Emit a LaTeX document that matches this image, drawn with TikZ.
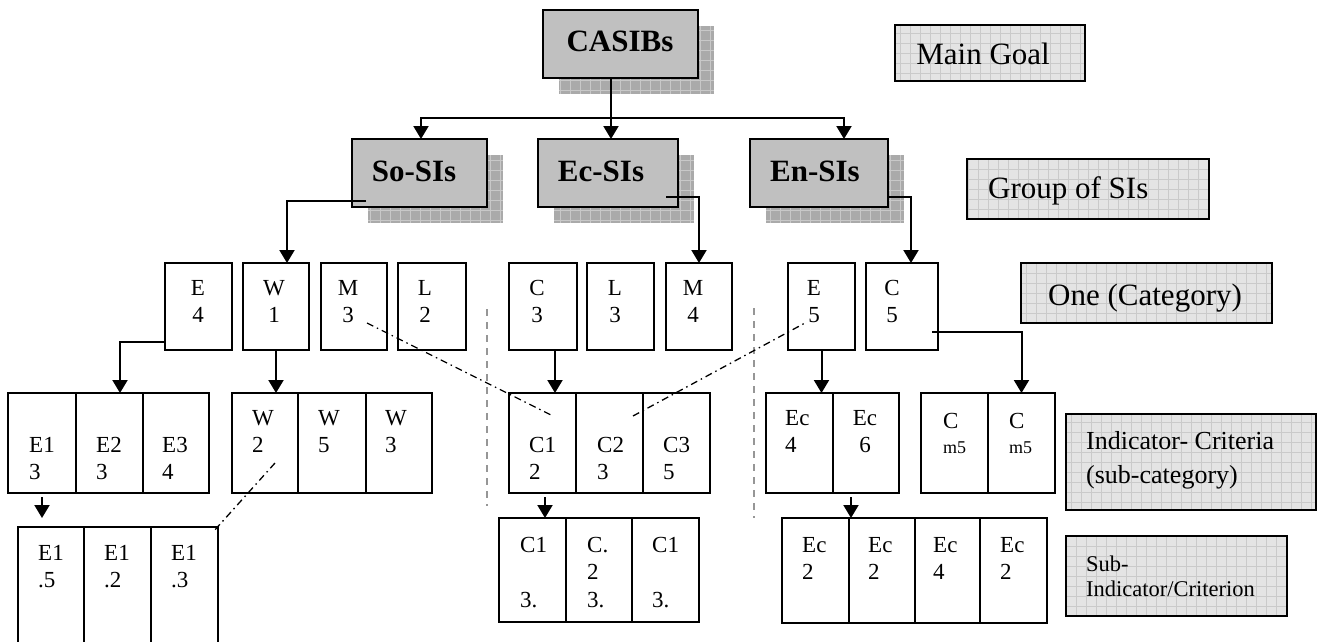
\documentclass[tikz,border=0pt]{standalone}
\usepackage{fontspec}
\setmainfont{Liberation Serif}
\usetikzlibrary{arrows.meta}
\definecolor{boxgray}{RGB}{192,192,192}
\definecolor{shadowgray}{RGB}{170,170,170}
\definecolor{shadowgrid}{RGB}{200,200,200}
\definecolor{leggray}{RGB}{228,228,228}
\definecolor{leggrid}{RGB}{202,202,202}
\definecolor{sepgray}{RGB}{150,150,150}
\begin{document}
\begin{tikzpicture}[x=1pt,y=-1pt,
  bx/.style={draw, line width=2pt, anchor=north west, inner sep=0pt, outer sep=0pt, fill=white},
  grpbox/.style={bx, fill=boxgray, minimum height=68pt},
  catbox/.style={bx, minimum height=87pt},
  indbox/.style={bx, minimum height=100pt},
  subbox/.style={bx, minimum height=104pt},
  legbox/.style={bx, fill=leggray, path picture={\draw[leggrid, line width=0.6pt, x=1pt, y=1pt, step=10] (path picture bounding box.south west) grid (path picture bounding box.north east);}},
  shadowbox/.style={fill=shadowgray, path picture={\draw[shadowgrid, line width=0.8pt, x=1pt, y=1pt, step=10] (path picture bounding box.south west) grid (path picture bounding box.north east);}},
  grptext/.style={inner sep=0pt, font=\fontsize{31}{36}\selectfont\bfseries},
  cattext/.style={anchor=north, inner sep=0pt, align=center, font=\fontsize{23}{27}\selectfont},
  celltext/.style={anchor=north west, inner sep=0pt, align=left, font=\fontsize{23}{27}\selectfont},
  legtext/.style={inner sep=0pt, font=\fontsize{31}{36}\selectfont},
  arr/.style={line width=2pt, -{Triangle[width=15pt,length=13pt]}},
  ddot/.style={line width=1.3pt, dash pattern=on 7pt off 4pt on 1.5pt off 4pt},
  sep/.style={sepgray, line width=1.5pt, dash pattern=on 7pt off 6pt}
]
\useasboundingbox (0,0) rectangle (1318,642);
\clip (0,0) rectangle (1318,642);

% shadows
\path[shadowbox] (559,26) rectangle (714,94);
\path[shadowbox] (368,155) rectangle (503,223);
\path[shadowbox] (554,155) rectangle (694,223);
\path[shadowbox] (766,155) rectangle (904,223);

% main goal and groups
\node[grpbox, minimum width=155pt] (cas) at (543,10) {};
\node[grptext] (castxt) at (620,41) {CASIBs};
\node[grpbox, minimum width=135pt] (so) at (352,139) {};
\node[grpbox, minimum width=140pt] (ec) at (538,139) {};
\node[grpbox, minimum width=138pt] (en) at (750,139) {};
\node[grptext] (sotxt) at (414,171) {So-SIs};
\node[grptext] (ectxt) at (601,171) {Ec-SIs};
\node[grptext] (entxt) at (815,171) {En-SIs};

% categories
\node[catbox, minimum width=67pt] (e4) at (165,263) {};
\node[catbox, minimum width=66pt] (w1) at (243,263) {};
\node[catbox, minimum width=66pt] (m3) at (321,263) {};
\node[catbox, minimum width=68pt] (l2) at (398,263) {};
\node[catbox, minimum width=68pt] (c3) at (509,263) {};
\node[catbox, minimum width=67pt] (l3) at (587,263) {};
\node[catbox, minimum width=66pt] (m4) at (666,263) {};
\node[catbox, minimum width=67pt] (e5) at (788,263) {};
\node[catbox, minimum width=72pt] (c5) at (866,263) {};
\node[cattext] (te4) at (198,280) {E\\4};
\node[cattext] (tw1) at (274,280) {W\\1};
\node[cattext] (tm3) at (348,280) {M\\3};
\node[cattext] (tl2) at (425,280) {L\\2};
\node[cattext] (tc3) at (537,280) {C\\3};
\node[cattext] (tl3) at (615,280) {L\\3};
\node[cattext] (tm4) at (693,280) {M\\4};
\node[cattext] (te5) at (814,280) {E\\5};
\node[cattext] (tc5) at (892,280) {C\\5};

% indicators
\node[indbox, minimum width=68pt] (e13) at (8,393) {};
\node[indbox, minimum width=67pt] (e23) at (76,393) {};
\node[indbox, minimum width=66pt] (e34) at (143,393) {};
\node[indbox, minimum width=66pt] (w2) at (232,393) {};
\node[indbox, minimum width=68pt] (w5) at (298,393) {};
\node[indbox, minimum width=66pt] (w3) at (366,393) {};
\node[indbox, minimum width=67pt] (c12) at (509,393) {};
\node[indbox, minimum width=67pt] (c23) at (576,393) {};
\node[indbox, minimum width=67pt] (c35) at (643,393) {};
\node[indbox, minimum width=67pt] (ec4) at (766,393) {};
\node[indbox, minimum width=66pt] (ec6) at (833,393) {};
\node[indbox, minimum width=67pt] (cm5a) at (921,393) {};
\node[indbox, minimum width=67pt] (cm5b) at (988,393) {};
\node[celltext] (te13) at (29,437) {E1\\3};
\node[celltext] (te23) at (96,437) {E2\\3};
\node[celltext] (te34) at (162,437) {E3\\4};
\node[celltext] (tw2) at (252,410) {W\\2};
\node[celltext] (tw5) at (318,410) {W\\5};
\node[celltext] (tw3) at (385,410) {W\\3};
\node[celltext] (tc12) at (529,437) {C1\\2};
\node[celltext] (tc23) at (597,437) {C2\\3};
\node[celltext] (tc35) at (663,437) {C3\\5};
\node[celltext] (tec4) at (785,410) {Ec\\4};
\node[cattext] (tec6) at (865,410) {Ec\\6};
\node[celltext, font=\fontsize{23}{25}\selectfont] (tcm5a) at (943,413) {C\\{\fontsize{18}{25}\selectfont m5}};
\node[celltext, font=\fontsize{23}{25}\selectfont] (tcm5b) at (1009,413) {C\\{\fontsize{18}{25}\selectfont m5}};

% sub-indicators
\node[bx, minimum width=66pt, minimum height=130pt] (e15) at (18,527) {};
\node[bx, minimum width=67pt, minimum height=130pt] (e12) at (84,527) {};
\node[bx, minimum width=67pt, minimum height=130pt] (e1s3) at (151,527) {};
\node[subbox, minimum width=67pt] (cs1) at (499,518) {};
\node[subbox, minimum width=66pt] (cs2) at (566,518) {};
\node[subbox, minimum width=67pt] (cs3) at (632,518) {};
\node[subbox, minimum width=67pt, minimum height=105pt] (es1) at (782,518) {};
\node[subbox, minimum width=66pt, minimum height=105pt] (es2) at (849,518) {};
\node[subbox, minimum width=65pt, minimum height=105pt] (es3) at (915,518) {};
\node[subbox, minimum width=67pt, minimum height=105pt] (es4) at (980,518) {};
\node[celltext] (te15) at (38,545) {E1\\.5};
\node[celltext] (te12) at (104,545) {E1\\.2};
\node[celltext] (te1s3) at (171,545) {E1\\.3};
\node[celltext, font=\fontsize{23}{27.5}\selectfont] (tcs1) at (520,537) {C1\\ \\3.};
\node[celltext, font=\fontsize{23}{27.5}\selectfont] (tcs2) at (587,537) {C.\\2\\3.};
\node[celltext, font=\fontsize{23}{27.5}\selectfont] (tcs3) at (652,537) {C1\\ \\3.};
\node[celltext] (tes1) at (802,537) {Ec\\2};
\node[celltext] (tes2) at (868,537) {Ec\\2};
\node[celltext] (tes3) at (933,537) {Ec\\4};
\node[celltext] (tes4) at (1000,537) {Ec\\2};

% legend
\node[legbox, minimum width=190pt, minimum height=56pt] (lgmain) at (895,25) {};
\node[legbox, minimum width=242pt, minimum height=60pt] (lggrp) at (967,159) {};
\node[legbox, minimum width=251pt, minimum height=60pt] (lgone) at (1021,263) {};
\node[legbox, minimum width=250pt, minimum height=96pt] (lgind) at (1066,414) {};
\node[legbox, minimum width=221pt, minimum height=80pt] (lgsub) at (1066,536) {};
\node[legtext, anchor=base east] (tlgmain) at (1050,65) {Main Goal};
\node[legtext, anchor=base west] (tlggrp) at (988,198) {Group of SIs};
\node[legtext, anchor=base west] (tlgone) at (1048,305) {One (Category)};
\node[celltext, font=\fontsize{26}{34}\selectfont] (tlgind) at (1086,431) {Indicator- Criteria\\(sub-category)};
\node[celltext, font=\fontsize{22.5}{25}\selectfont] (tlgsub) at (1086,556) {Sub-\\Indicator/Criterion};

% separators
\draw[sep] (487,309) -- (487,506);
\draw[sep] (754,308) -- (754,518);

% connectors
\coordinate (hb) at (611,118);
\draw[line width=2pt] ([xshift=-9.5pt]cas.south) -- (hb);
\draw[arr] (hb) -| ([xshift=1.5pt]so.north);
\draw[arr] (hb) -- (hb |- ec.north);
\draw[arr] (hb) -| ([xshift=25pt]en.north);
\draw[arr] ([xshift=14pt,yshift=6pt]so.south west) -| ([xshift=11pt]w1.north);
\draw[arr] ([xshift=-12pt,yshift=10pt]ec.south east) -| (m4.north);
\draw[arr] ([yshift=10pt]en.south east) -| ([xshift=9pt]c5.north);
\draw[arr] ([yshift=8pt]e4.south west) -| ([xshift=10.5pt]e23.north);
\draw[arr] (w1.south) -- (w1.south |- w2.north);
\coordinate (c3a) at ([xshift=12pt]c3.south);
\draw[arr] (c3a) -- (c3a |- c12.north);
\draw[arr] (e5.south) -- (e5.south |- ec4.north);
\draw[arr] ([xshift=-6pt,yshift=18pt]c5.south east) -| (cm5b.north);
\coordinate (t1) at ([yshift=-4pt]e13.south);
\draw[arr, shorten >=9pt] (t1) -- (t1 |- e15.north);
\coordinate (t2) at ([xshift=2.5pt,yshift=-4pt]c12.south);
\draw[arr] (t2) -- (t2 |- cs1.north);
\coordinate (t3) at ([xshift=-15pt,yshift=-4pt]ec6.south);
\draw[arr] (t3) -- (t3 |- es1.north);

% dash-dot links
\draw[ddot] ([xshift=13pt,yshift=-16.5pt]m3.center) -- ([xshift=10.5pt,yshift=27pt]c12.center);
\draw[ddot] ([xshift=23.5pt,yshift=27pt]c23.center) -- ([xshift=-16.5pt,yshift=-16.5pt]e5.center);
\draw[ddot] ([xshift=10pt,yshift=-20pt]w2.center) -- ([xshift=-5pt,yshift=-5pt]e1s3.north east);
\end{tikzpicture}
\end{document}
